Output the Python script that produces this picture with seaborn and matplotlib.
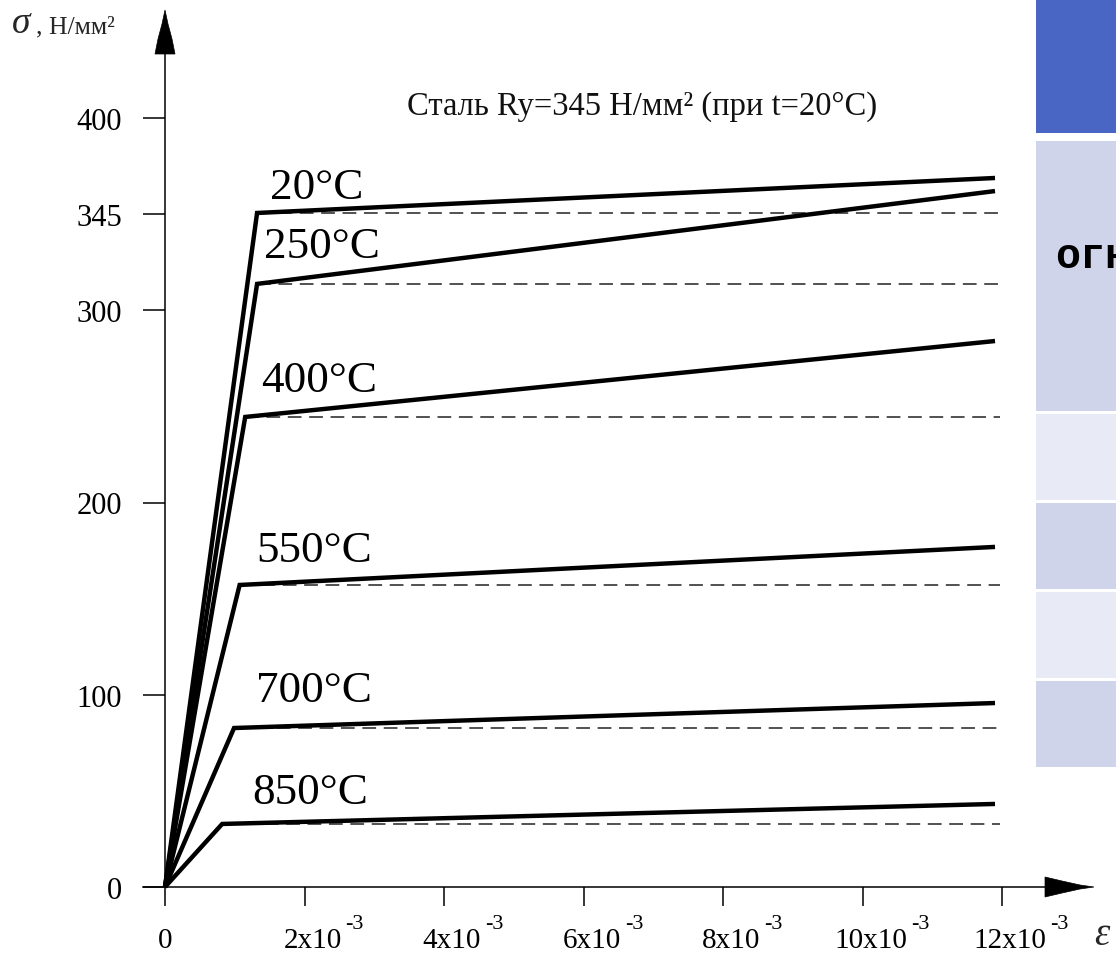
import matplotlib
matplotlib.use("Agg")
import matplotlib.pyplot as plt
import matplotlib.transforms as mtrans
from matplotlib.patches import Rectangle, Polygon
import pandas as pd
import seaborn as sns

# ---------------- data ----------------
TEMPS = ["20°C", "250°C", "400°C", "550°C", "700°C", "850°C"]
YIELD_STRAIN = [1.32e-3, 1.32e-3, 1.15e-3, 1.07e-3, 0.99e-3, 0.82e-3]
YIELD_STRESS = [350.6, 313.7, 244.5, 157.1, 82.7, 32.8]
END_STRAIN = [11.9e-3, 11.9e-3, 11.9e-3, 11.9e-3, 11.9e-3, 11.9e-3]
END_STRESS = [368.8, 362.0, 284.0, 176.9, 95.7, 43.2]

YTICKS = [0, 100, 200, 300, 350, 400]
YTICK_LABELS = ["0", "100", "200", "300", "345", "400"]
XTICKS = [0, 2e-3, 4e-3, 6e-3, 8e-3, 10e-3, 12e-3]
XTICK_LABELS = ["0", "2x10", "4x10", "6x10", "8x10", "10x10", "12x10"]
XTICK_EXP = "-3"

TITLE = "Сталь Ry=345 Н/мм² (при t=20°C)"
YLABEL_SYM = "σ"
YLABEL_UNIT = ", Н/мм²"
XLABEL_SYM = "ε"
TABLE_TEXT = "огнестойкость"

# ---------------- layout ----------------
W, H = 1116, 954
PX_X0, PX_PER_X = 165, 69750.0
PX_Y0, PX_PER_Y = 888, 1.9225
LABEL_PX = [(270, 199), (264, 258), (261, 392), (256, 562), (256, 702), (252, 804)]

sns.set_theme(style="white")
plt.rcParams["font.family"] = ["Liberation Serif", "DejaVu Serif"]

fig = plt.figure(figsize=(W / 100, H / 100), dpi=100)
fig.patch.set_facecolor("white")
ax = fig.add_axes([0, 0, 1, 1])
ax.set_facecolor("none")
ax.set_xlim(-PX_X0 / PX_PER_X, (W - PX_X0) / PX_PER_X)
ax.set_ylim((PX_Y0 - H) / PX_PER_Y, PX_Y0 / PX_PER_Y)


def fx(px):
    return px / W


def fy(py):
    return 1 - py / H


# ---------------- curves ----------------
rows = []
for t, ex, sy, ee, se in zip(TEMPS, YIELD_STRAIN, YIELD_STRESS, END_STRAIN, END_STRESS):
    rows += [(t, 0.0, 0.0), (t, ex, sy), (t, ee, se)]
df = pd.DataFrame(rows, columns=["temp", "strain", "stress"])

ax.hlines(YIELD_STRESS, xmin=YIELD_STRAIN, xmax=[e + 0.07e-3 for e in END_STRAIN],
          colors="#222222", linewidth=1.1, linestyles=(0, (9, 5)), zorder=1.5)

sns.lineplot(data=df, x="strain", y="stress", hue="temp",
             palette={t: "black" for t in TEMPS}, sort=False, estimator=None,
             linewidth=3.2, legend=False, ax=ax, zorder=3)
for ln in ax.get_lines():
    ln.set_solid_joinstyle("miter")
    ln.set_solid_capstyle("butt")
ax.set_xlabel("")
ax.set_ylabel("")

for t, (lx, ly) in zip(TEMPS, LABEL_PX):
    ax.text((lx - PX_X0) / PX_PER_X, (PX_Y0 - ly) / PX_PER_Y, t, fontsize=32.5,
            ha="left", va="baseline", color="black")

# ---------------- axes ----------------
for s in ["top", "right"]:
    ax.spines[s].set_visible(False)
ax.spines["left"].set_position(("data", 0))
ax.spines["left"].set_bounds(0, (PX_Y0 - 55) / PX_PER_Y)
ax.spines["bottom"].set_position(("data", 0))
ax.spines["bottom"].set_bounds(-22 / PX_PER_X, (1046 - PX_X0) / PX_PER_X)
for s in ["left", "bottom"]:
    ax.spines[s].set_color("black")
    ax.spines[s].set_linewidth(1.1)

ax.set_yticks(YTICKS, YTICK_LABELS)
ax.set_xticks(XTICKS, XTICK_LABELS)
ax.tick_params(axis="y", left=True, direction="out", length=16, width=1.1,
               color="black", labelsize=22, pad=15, labelcolor="black")
ax.tick_params(axis="x", bottom=True, direction="out", length=14, width=1.1,
               color="black", labelsize=21, pad=15, labelcolor="black")
ax.grid(False)

shift = mtrans.ScaledTranslation(8 / 100, 0, fig.dpi_scale_trans)
for lab in ax.get_xticklabels()[1:]:
    lab.set_transform(lab.get_transform() + shift)

# arrowheads
yarrow = [(155, 55), (158, 40), (162, 25), (165, 11), (168, 25), (172, 40), (175, 55)]
xarrow = [(1045, 878), (1062, 882), (1080, 886), (1094, 888), (1080, 890), (1062, 894), (1045, 898)]
for poly in (yarrow, xarrow):
    fig.add_artist(Polygon([(fx(a), fy(b)) for a, b in poly], closed=True,
                           transform=fig.transFigure, facecolor="black", edgecolor="black", lw=0.5))

# texts
fig.text(fx(407), fy(115), TITLE, fontsize=23.5, ha="left", va="baseline", color="#111111")
fig.text(fx(12), fy(33), YLABEL_SYM, fontsize=27, style="italic", ha="left", va="baseline")
fig.text(fx(36), fy(33), YLABEL_UNIT, fontsize=18.5, ha="left", va="baseline")
fig.text(fx(1094), fy(945), XLABEL_SYM, fontsize=28, style="italic", ha="left", va="baseline")

# ---------------- table fragment on the right ----------------
cells = [(0, 134, "#4A66C4"), (142, 412, "#CFD4EA"), (415, 501, "#E8EAF5"),
         (504, 590, "#CFD4EA"), (593, 679, "#E8EAF5"), (682, 768, "#CFD4EA")]
for y0, y1, c in cells:
    fig.add_artist(Rectangle((fx(1036), fy(y1)), fx(W - 1036), (y1 - y0) / H,
                             transform=fig.transFigure, facecolor=c, edgecolor="none", zorder=0))
fig.text(fx(1055), fy(268), TABLE_TEXT, fontsize=30, fontweight="bold",
         family=["Liberation Mono", "DejaVu Sans Mono"], ha="left", va="baseline", color="black")

# exponent superscripts on x tick labels
fig.canvas.draw()
r = fig.canvas.get_renderer()
for lab in ax.get_xticklabels()[1:]:
    bb = lab.get_window_extent(r)
    fig.text((bb.x1 + 4) / W, (bb.y1 - 1) / H, XTICK_EXP, fontsize=16,
             ha="left", va="baseline", color="black")

fig.savefig("out.png", dpi=100, facecolor="white")
